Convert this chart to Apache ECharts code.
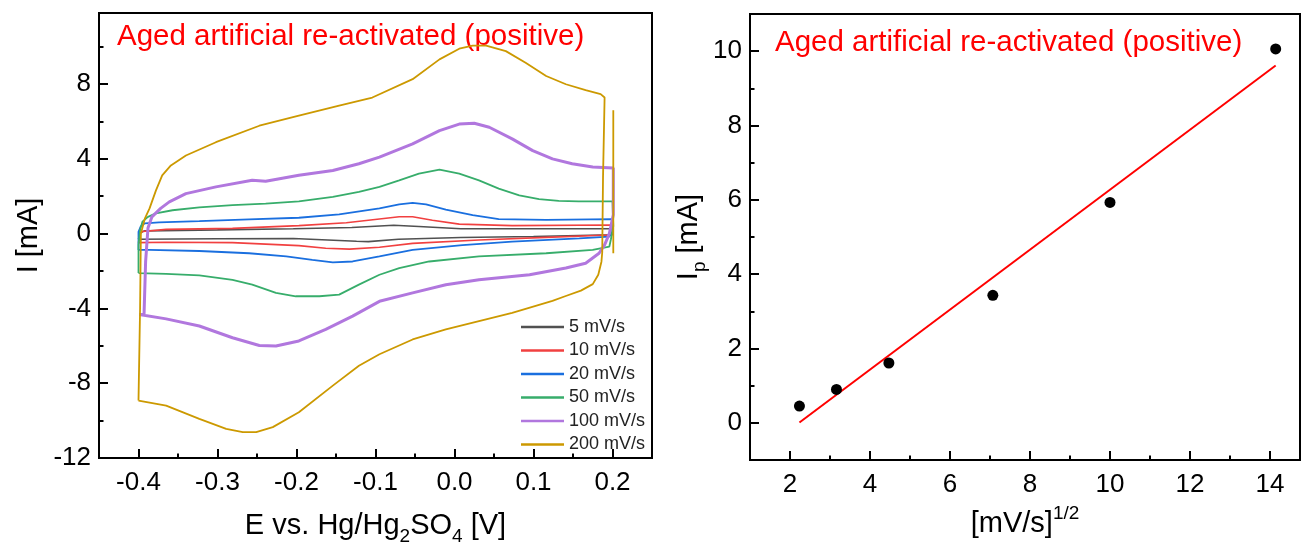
<!DOCTYPE html>
<html>
<head>
<meta charset="utf-8">
<script src="https://cdn.jsdelivr.net/npm/echarts@6/dist/echarts.min.js"></script>
<style>
  html, body { margin: 0; padding: 0; background: #fff; }
  #chart { width: 1301px; height: 551px; }
</style>
</head>
<body>
<div id="chart"></div>
<script>
// ---- Cyclic voltammograms: [E (V), I (mA)] ----
// anodic branch runs -0.4 -> 0.2 V, cathodic branch runs 0.2 -> -0.4 V
const scanRates = ['5 mV/s', '10 mV/s', '20 mV/s', '50 mV/s', '100 mV/s', '200 mV/s'];
const scanColors = ['#515151', '#F14040', '#1A6FDF', '#37AD6B', '#B177DE', '#CC9900'];
const scanWidths = [1.6, 1.6, 1.8, 1.8, 3, 1.8];

const anodic5 = [[-0.400,-0.30],[-0.398,0.05],[-0.392,0.15],[-0.300,0.20],[-0.204,0.26],[-0.130,0.33],[-0.077,0.45],[-0.045,0.38],[0.008,0.26],[0.200,0.26]];
const cathodic5 = [[0.200,0.26],[0.200,-0.06],[0.100,-0.15],[0.008,-0.21],[-0.071,-0.30],[-0.109,-0.43],[-0.124,-0.41],[-0.204,-0.26],[-0.300,-0.27],[-0.400,-0.30]];

const anodic10 = [[-0.400,-0.48],[-0.398,0.00],[-0.395,0.11],[-0.365,0.23],[-0.281,0.28],[-0.197,0.43],[-0.137,0.58],[-0.095,0.78],[-0.070,0.90],[-0.053,0.90],[-0.028,0.72],[0.006,0.51],[0.073,0.43],[0.200,0.46]];
const cathodic10 = [[0.200,0.46],[0.200,0.00],[0.196,-0.07],[0.116,-0.20],[0.031,-0.34],[-0.053,-0.52],[-0.095,-0.73],[-0.133,-0.83],[-0.163,-0.78],[-0.197,-0.64],[-0.281,-0.48],[-0.365,-0.46],[-0.400,-0.48]];

const anodic20 = [[-0.400,-0.87],[-0.400,0.10],[-0.397,0.40],[-0.392,0.55],[-0.374,0.60],[-0.323,0.67],[-0.260,0.76],[-0.197,0.85],[-0.146,1.03],[-0.095,1.35],[-0.070,1.56],[-0.053,1.65],[-0.036,1.56],[-0.011,1.29],[0.023,0.99],[0.056,0.78],[0.116,0.74],[0.200,0.78]];
const cathodic20 = [[0.200,0.78],[0.200,0.10],[0.196,-0.16],[0.158,-0.25],[0.073,-0.43],[0.010,-0.61],[-0.053,-0.87],[-0.095,-1.22],[-0.129,-1.49],[-0.154,-1.54],[-0.180,-1.40],[-0.213,-1.22],[-0.260,-1.05],[-0.323,-0.93],[-0.386,-0.87],[-0.400,-0.87]];

const anodic50 = [[-0.400,-2.11],[-0.400,-0.60],[-0.398,0.20],[-0.395,0.64],[-0.388,0.90],[-0.378,1.08],[-0.357,1.25],[-0.323,1.40],[-0.281,1.52],[-0.239,1.61],[-0.197,1.73],[-0.154,1.97],[-0.121,2.23],[-0.095,2.50],[-0.070,2.85],[-0.045,3.21],[-0.019,3.42],[0.006,3.21],[0.031,2.85],[0.056,2.41],[0.082,2.05],[0.107,1.84],[0.132,1.75],[0.157,1.73],[0.200,1.73]];
const cathodic50 = [[0.201,1.73],[0.201,0.40],[0.198,-0.30],[0.196,-0.69],[0.175,-0.87],[0.116,-1.05],[0.031,-1.22],[-0.032,-1.49],[-0.070,-1.84],[-0.095,-2.20],[-0.121,-2.73],[-0.146,-3.26],[-0.171,-3.35],[-0.201,-3.35],[-0.226,-3.17],[-0.256,-2.73],[-0.281,-2.47],[-0.323,-2.23],[-0.365,-2.15],[-0.400,-2.11]];

const anodic100 = [[-0.399,-4.33],[-0.393,-4.33],[-0.391,-1.50],[-0.388,0.30],[-0.383,0.90],[-0.372,1.35],[-0.361,1.70],[-0.340,2.14],[-0.302,2.50],[-0.256,2.85],[-0.239,2.80],[-0.197,3.12],[-0.154,3.38],[-0.121,3.74],[-0.095,4.09],[-0.053,4.80],[-0.019,5.51],[0.006,5.86],[0.025,5.90],[0.044,5.69],[0.073,5.07],[0.099,4.44],[0.124,4.00],[0.149,3.74],[0.175,3.56],[0.201,3.51]];
const cathodic100 = [[0.201,3.51],[0.201,1.00],[0.196,0.00],[0.190,-0.60],[0.183,-1.05],[0.166,-1.58],[0.141,-1.84],[0.095,-2.20],[0.031,-2.47],[-0.011,-2.73],[-0.053,-3.17],[-0.095,-3.62],[-0.129,-4.41],[-0.163,-5.12],[-0.197,-5.74],[-0.226,-6.01],[-0.247,-5.98],[-0.281,-5.57],[-0.323,-4.94],[-0.365,-4.56],[-0.399,-4.33]];

const anodic200 = [[-0.400,-8.93],[-0.398,-4.00],[-0.397,0.00],[-0.392,0.80],[-0.386,1.35],[-0.378,2.30],[-0.370,3.12],[-0.359,3.65],[-0.340,4.18],[-0.302,4.89],[-0.247,5.77],[-0.197,6.31],[-0.146,6.84],[-0.104,7.28],[-0.053,8.26],[-0.019,9.32],[0.006,9.89],[0.023,10.06],[0.040,10.06],[0.065,9.76],[0.090,9.14],[0.116,8.43],[0.141,7.99],[0.166,7.67],[0.185,7.46],[0.190,7.28]];
const cathodic200 = [[0.190,7.28],[0.188,3.00],[0.187,-1.00],[0.186,-1.50],[0.182,-2.20],[0.175,-2.70],[0.160,-3.05],[0.140,-3.35],[0.124,-3.60],[0.073,-4.24],[0.031,-4.68],[-0.011,-5.12],[-0.053,-5.66],[-0.095,-6.45],[-0.121,-7.07],[-0.154,-8.13],[-0.197,-9.55],[-0.230,-10.35],[-0.251,-10.62],[-0.268,-10.62],[-0.289,-10.44],[-0.323,-9.91],[-0.365,-9.20],[-0.400,-8.93]];
// short transient at the switching potential
const switch200 = [[0.201,6.60],[0.201,-1.05]];

const anodicBranches = [anodic5, anodic10, anodic20, anodic50, anodic100, anodic200];
const cathodicBranches = [cathodic5, cathodic10, cathodic20, cathodic50, cathodic100, cathodic200];

// ---- Peak current vs. square root of scan rate ----
const sqrtScanRate = [2.236, 3.162, 4.472, 7.071, 10.0, 14.142];
const peakCurrent = [0.45, 0.90, 1.61, 3.43, 5.93, 10.06];

// ---- Tick positions ----
const cvMajorX = [-0.4, -0.3, -0.2, -0.1, 0.0, 0.1, 0.2];
const cvMinorX = [-0.35, -0.25, -0.15, -0.05, 0.05, 0.15];
const cvMajorY = [-12, -8, -4, 0, 4, 8];
const cvMinorY = [-10, -6, -2, 2, 6, 10];
const ipMajorX = [2, 4, 6, 8, 10, 12, 14];
const ipMinorX = [3, 5, 7, 9, 11, 13];
const ipMajorY = [0, 2, 4, 6, 8, 10];
const ipMinorY = [1, 3, 5, 7, 9];

const panelTitle = 'Aged artificial re-activated (positive)';

// least-squares line through the peak currents
function linearFit(xs, ys) {
  const n = xs.length;
  const mx = xs.reduce((a, b) => a + b, 0) / n;
  const my = ys.reduce((a, b) => a + b, 0) / n;
  let sxy = 0, sxx = 0;
  for (let i = 0; i < n; i++) {
    sxy += (xs[i] - mx) * (ys[i] - my);
    sxx += (xs[i] - mx) * (xs[i] - mx);
  }
  const slope = sxy / sxx;
  return { slope, intercept: my - slope * mx };
}

const FONT = '"Liberation Sans", Arial, sans-serif';
const TICK_FONT = 26;

function mainAxis(dim, gridIndex, min, max, ticks, fmt, extra) {
  return Object.assign({
    type: 'value', gridIndex, min, max,
    position: dim === 'x' ? 'bottom' : 'left',
    axisLine: { show: true, onZero: false, lineStyle: { color: '#000', width: 2 } },
    axisTick: { show: true, inside: true, length: 9, customValues: ticks, lineStyle: { color: '#000', width: 2 } },
    axisLabel: { show: true, customValues: ticks, formatter: fmt, color: '#000',
                 fontSize: TICK_FONT, fontFamily: FONT, margin: dim === 'x' ? 12 : 8 },
    splitLine: { show: false }
  }, extra || {});
}

function minorAxis(dim, gridIndex, min, max, ticks) {
  return {
    type: 'value', gridIndex, min, max,
    position: dim === 'x' ? 'bottom' : 'left',
    axisLine: { show: false, onZero: false },
    axisTick: { show: true, inside: true, length: 4.5, customValues: ticks, lineStyle: { color: '#000', width: 2 } },
    axisLabel: { show: false },
    splitLine: { show: false }
  };
}

const nameStyle = () => ({
  color: '#000', fontSize: 29, fontFamily: FONT, lineHeight: 40,
  rich: {
    sub: { fontSize: 19, lineHeight: 18, verticalAlign: 'bottom', fontFamily: FONT, color: '#000' },
    sup: { fontSize: 19, lineHeight: 18, verticalAlign: 'top', fontFamily: FONT, color: '#000' }
  }
});

const cvSeries = [];
scanRates.forEach((name, i) => {
  cvSeries.push({
    name, type: 'line', xAxisIndex: 0, yAxisIndex: 0,
    data: anodicBranches[i].concat(cathodicBranches[i]),
    showSymbol: false, symbol: 'none', smooth: false,
    lineStyle: { color: scanColors[i], width: scanWidths[i] },
    itemStyle: { color: scanColors[i] },
    animation: false, z: 2 + i
  });
});
cvSeries.push({
  name: 'switch-200', type: 'line', xAxisIndex: 0, yAxisIndex: 0,
  data: switch200, showSymbol: false, symbol: 'none',
  lineStyle: { color: scanColors[5], width: scanWidths[5] },
  animation: false, z: 8
});

const fit = linearFit(sqrtScanRate, peakCurrent);
const xLo = Math.min(...sqrtScanRate), xHi = Math.max(...sqrtScanRate);

const option = {
  backgroundColor: '#fff',
  animation: false,
  title: [
    { text: panelTitle, left: 117, top: 22, padding: 0,
      textStyle: { color: '#ff0000', fontSize: 29.5, fontWeight: 'normal', fontFamily: FONT } },
    { text: panelTitle, left: 775, top: 28, padding: 0,
      textStyle: { color: '#ff0000', fontSize: 29.5, fontWeight: 'normal', fontFamily: FONT } }
  ],
  legend: {
    data: scanRates,
    orient: 'vertical', left: 521, top: 318,
    icon: 'rect', itemWidth: 43, itemHeight: 2.5, itemGap: 5.5, padding: 0,
    textStyle: { color: '#222', fontSize: 18, fontFamily: FONT, lineHeight: 18 },
    selectedMode: false
  },
  grid: [
    { left: 99, top: 13, width: 553, height: 448, show: true, borderColor: '#000', borderWidth: 2, backgroundColor: 'transparent' },
    { left: 750, top: 14, width: 550, height: 446, show: true, borderColor: '#000', borderWidth: 2, backgroundColor: 'transparent' }
  ],
  xAxis: [
    mainAxis('x', 0, -0.45, 0.25, cvMajorX, v => v.toFixed(1), {
      name: 'E vs. Hg/Hg{sub|2}SO{sub|4} [V]', nameLocation: 'middle', nameGap: 48,
      nameTextStyle: nameStyle()
    }),
    minorAxis('x', 0, -0.45, 0.25, cvMinorX),
    mainAxis('x', 1, 1, 14.75, ipMajorX, v => String(Math.round(v)), {
      name: '[mV/s]{sup|1/2}', nameLocation: 'middle', nameGap: 44,
      nameTextStyle: nameStyle()
    }),
    minorAxis('x', 1, 1, 14.75, ipMinorX)
  ],
  yAxis: [
    mainAxis('y', 0, -12, 11.8, cvMajorY, v => String(Math.round(v)), {
      name: 'I [mA]', nameLocation: 'middle', nameGap: 50, nameRotate: 90,
      nameTextStyle: nameStyle()
    }),
    minorAxis('y', 0, -12, 11.8, cvMinorY),
    mainAxis('y', 1, -1, 11, ipMajorY, v => String(Math.round(v)), {
      name: 'I{sub|p} [mA]', nameLocation: 'middle', nameGap: 40, nameRotate: 90,
      nameTextStyle: nameStyle()
    }),
    minorAxis('y', 1, -1, 11, ipMinorY)
  ],
  series: cvSeries.concat([
    {
      name: 'fit', type: 'line', xAxisIndex: 2, yAxisIndex: 2,
      data: [[xLo, fit.intercept + fit.slope * xLo], [xHi, fit.intercept + fit.slope * xHi]],
      showSymbol: false, symbol: 'none',
      lineStyle: { color: '#ff0000', width: 2 }, animation: false, z: 2
    },
    {
      name: 'Ip', type: 'scatter', xAxisIndex: 2, yAxisIndex: 2,
      data: sqrtScanRate.map((x, i) => [x, peakCurrent[i]]),
      symbol: 'circle', symbolSize: 11,
      itemStyle: { color: '#000', opacity: 1 }, animation: false, z: 3
    }
  ])
};

const chart = echarts.init(document.getElementById('chart'), null, { renderer: 'canvas' });
chart.setOption(option);
</script>
</body>
</html>
